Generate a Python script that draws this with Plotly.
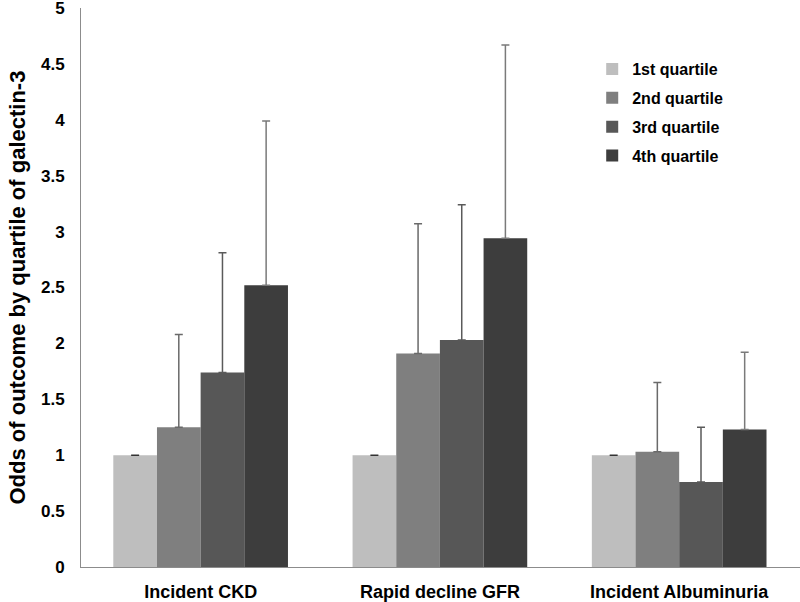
import plotly.graph_objects as go

categories = ["Incident CKD", "Rapid decline GFR", "Incident Albuminuria"]
series_names = ["1st quartile", "2nd quartile", "3rd quartile", "4th quartile"]
values = [
    [1.0, 1.0, 1.0],
    [1.25, 1.91, 1.03],
    [1.74, 2.03, 0.76],
    [2.52, 2.94, 1.23],
]
upper = [
    [1.0, 1.0, 1.0],
    [2.08, 3.07, 1.65],
    [2.81, 3.24, 1.25],
    [3.99, 4.67, 1.92],
]
colors = ["#BEBEBE", "#7F7F7F", "#575757", "#3D3D3D"]
err_colors = ["#333333", "#6A6A6A", "#5A5A5A", "#7A7A7A"]
y_ticks = [0, 0.5, 1, 1.5, 2, 2.5, 3, 3.5, 4, 4.5, 5]
y_ticklabels = ["0", "0.5", "1", "1.5", "2", "2.5", "3", "3.5", "4", "4.5", "5"]
y_title = "Odds of outcome by quartile of galectin-3"

FONT = "Liberation Sans, Arial, sans-serif"

fig = go.Figure()
for i, (name, vals, ups, col) in enumerate(zip(series_names, values, upper, colors)):
    fig.add_trace(go.Bar(
        name=name,
        x=categories,
        y=vals,
        legendgroup=f"g{i}",
        marker=dict(color=col, line=dict(width=0)),
        error_y=dict(
            type="data",
            symmetric=False,
            array=[u - v for u, v in zip(ups, vals)],
            arrayminus=[0] * len(vals),
            color=err_colors[i],
            thickness=1.5,
            width=4,
        ),
    ))

fig.add_annotation(
    text=y_title, textangle=-90,
    xref="paper", yref="paper", x=-0.089, y=0.5,
    xanchor="center", yanchor="middle", showarrow=False,
    font=dict(family=FONT, size=22, color="black", weight="bold"),
)

fig.update_layout(
    width=800,
    height=602,
    barmode="group",
    bargap=0.27,
    bargroupgap=0,
    plot_bgcolor="white",
    paper_bgcolor="white",
    margin=dict(l=81, r=0, t=8, b=35, autoexpand=False),
    font=dict(family=FONT, color="black"),
    showlegend=True,
    legend=dict(
        x=0.711, y=0.921, xanchor="left", yanchor="top",
        font=dict(family=FONT, size=16, color="black", weight="bold"),
        bgcolor="rgba(0,0,0,0)",
        traceorder="grouped",
        tracegroupgap=5,
        itemwidth=30,
    ),
    xaxis=dict(
        range=[-0.5, 2.505],
        automargin=False,
        showline=True, linecolor="#8C8C8C", linewidth=1,
        ticks="", showgrid=False,
        tickfont=dict(family=FONT, size=18, color="black", weight="bold"),
        ticklabelstandoff=8,
    ),
    yaxis=dict(
        range=[0, 5],
        automargin=False,
        tickvals=y_ticks, ticktext=y_ticklabels,
        ticklabeloverflow="allow",
        showline=True, linecolor="#8C8C8C", linewidth=1,
        ticks="", showgrid=False, zeroline=False,
        tickfont=dict(family=FONT, size=17, color="black", weight="bold"),
        ticklabelstandoff=12,
    ),
)

fig.write_html("out.html", config={"displayModeBar": False},
               post_script="document.body.style.margin='0px';")
